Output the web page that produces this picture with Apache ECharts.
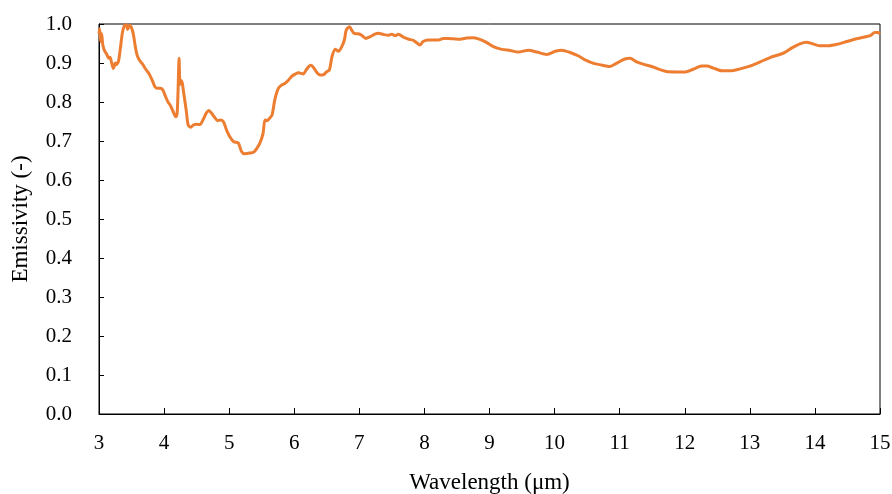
<!DOCTYPE html>
<html>
<head>
<meta charset="utf-8">
<script src="https://cdn.jsdelivr.net/npm/echarts@6/dist/echarts.min.js"></script>
<style>
  html, body { margin: 0; padding: 0; background: #fff; }
  #chart { width: 892px; height: 494px; }
</style>
</head>
<body>
<div id="chart"></div>
<script>
// Spectral emissivity of the sample, 3–15 µm
const wavelength = [
  3.00, 3.01, 3.025, 3.04, 3.06, 3.09, 3.12, 3.15, 3.17, 3.195,
  3.22, 3.235, 3.25, 3.27, 3.30, 3.33, 3.36, 3.39, 3.42, 3.44,
  3.47, 3.50, 3.53, 3.56, 3.59, 3.63, 3.67, 3.71, 3.75, 3.78,
  3.82, 3.86, 3.90, 3.94, 3.98, 4.02, 4.06, 4.10, 4.14, 4.18,
  4.20, 4.215, 4.23, 4.245, 4.26, 4.28, 4.30, 4.34, 4.37, 4.41,
  4.45, 4.50, 4.55, 4.60, 4.65, 4.69, 4.73, 4.78, 4.82, 4.86,
  4.91, 4.96, 5.01, 5.07, 5.14, 5.19, 5.24, 5.32, 5.38, 5.42,
  5.47, 5.52, 5.55, 5.58, 5.62, 5.66, 5.70, 5.755, 5.81, 5.86,
  5.91, 5.96, 6.02, 6.06, 6.09, 6.14, 6.19, 6.25, 6.29, 6.35,
  6.40, 6.45, 6.50, 6.54, 6.58, 6.63, 6.68, 6.73, 6.77, 6.80,
  6.85, 6.88, 6.92, 6.98, 7.03, 7.10, 7.16, 7.24, 7.29, 7.37,
  7.45, 7.50, 7.55, 7.60, 7.68, 7.76, 7.83, 7.88, 7.93, 7.98,
  8.06, 8.14, 8.22, 8.29, 8.37, 8.45, 8.55, 8.65, 8.75, 8.83,
  8.93, 9.06, 9.19, 9.32, 9.44, 9.60, 9.73, 9.88, 10.01, 10.11,
  10.24, 10.37, 10.47, 10.60, 10.72, 10.85, 10.95, 11.06, 11.16, 11.26,
  11.36, 11.49, 11.62, 11.72, 11.88, 12.00, 12.13, 12.26, 12.34, 12.44,
  12.57, 12.70, 12.85, 13.00, 13.16, 13.31, 13.51, 13.64, 13.77, 13.87,
  13.97, 14.08, 14.20, 14.34, 14.49, 14.64, 14.80, 14.85, 14.92, 14.97,
  15.00
];

const emissivity = [
  0.975, 0.988, 0.955, 0.975, 0.945, 0.930, 0.922, 0.912, 0.915, 0.900,
  0.886, 0.892, 0.900, 0.896, 0.905, 0.940, 0.978, 0.996, 0.998, 0.986,
  0.997, 0.990, 0.972, 0.940, 0.918, 0.905, 0.897, 0.886, 0.877, 0.869,
  0.855, 0.839, 0.835, 0.835, 0.831, 0.815, 0.800, 0.790, 0.775, 0.762,
  0.770, 0.830, 0.912, 0.845, 0.855, 0.848, 0.825, 0.779, 0.741, 0.735,
  0.741, 0.743, 0.742, 0.755, 0.772, 0.778, 0.771, 0.760, 0.752, 0.754,
  0.750, 0.728, 0.711, 0.698, 0.695, 0.673, 0.667, 0.669, 0.672, 0.680,
  0.694, 0.719, 0.754, 0.752, 0.758, 0.767, 0.805, 0.835, 0.844, 0.848,
  0.856, 0.866, 0.872, 0.875, 0.874, 0.872, 0.884, 0.894, 0.890, 0.875,
  0.869, 0.870, 0.878, 0.882, 0.916, 0.935, 0.930, 0.942, 0.959, 0.985,
  0.993, 0.985, 0.976, 0.975, 0.972, 0.963, 0.967, 0.974, 0.976, 0.973,
  0.971, 0.974, 0.970, 0.974, 0.966, 0.961, 0.958, 0.952, 0.946, 0.955,
  0.959, 0.959, 0.959, 0.963, 0.963, 0.962, 0.961, 0.964, 0.965, 0.962,
  0.955, 0.942, 0.935, 0.932, 0.928, 0.933, 0.928, 0.922, 0.930, 0.933,
  0.927, 0.918, 0.908, 0.899, 0.895, 0.891, 0.899, 0.909, 0.912, 0.903,
  0.897, 0.891, 0.883, 0.878, 0.877, 0.877, 0.884, 0.892, 0.892, 0.887,
  0.880, 0.880, 0.885, 0.892, 0.903, 0.914, 0.925, 0.938, 0.949, 0.953,
  0.949, 0.944, 0.944, 0.948, 0.955, 0.962, 0.968, 0.970, 0.978, 0.978,
  0.975
];

const xTitle = 'Wavelength (\u03bcm)';
const yTitle = 'Emissivity (-)';

const points = wavelength.map((w, i) => [w, emissivity[i]]);

const serif = '"Liberation Serif", "Times New Roman", serif';

const chart = echarts.init(document.getElementById('chart'), null, { renderer: 'canvas' });
chart.setOption({
  animation: false,
  backgroundColor: '#ffffff',
  grid: {
    left: 99, right: 12, top: 24, bottom: 80,
    containLabel: false,
    outerBoundsMode: 'none',
    show: true, borderColor: '#000', borderWidth: 1, backgroundColor: 'transparent'
  },
  xAxis: {
    type: 'value',
    min: 3, max: 15, interval: 1,
    name: xTitle,
    nameLocation: 'middle',
    nameGap: 57,
    nameTextStyle: { fontFamily: serif, fontSize: 23, color: '#000' },
    axisLine: { show: true, lineStyle: { color: '#000', width: 1 } },
    axisTick: { show: true, inside: true, length: 6, lineStyle: { color: '#000' } },
    axisLabel: { fontFamily: serif, fontSize: 21, color: '#000', margin: 19 },
    splitLine: { show: false }
  },
  yAxis: {
    type: 'value',
    min: 0, max: 1, interval: 0.1,
    name: yTitle,
    nameLocation: 'middle',
    nameGap: 67,
    nameTextStyle: { fontFamily: serif, fontSize: 23, color: '#000' },
    axisLine: { show: true, lineStyle: { color: '#000', width: 1 } },
    axisTick: { show: true, inside: true, length: 5, lineStyle: { color: '#000' } },
    axisLabel: {
      fontFamily: serif, fontSize: 21, color: '#000', margin: 27,
      formatter: v => v.toFixed(1)
    },
    splitLine: { show: false }
  },
  series: [{
    type: 'line',
    data: points,
    showSymbol: false,
    smooth: 0.25,
    clip: true,
    lineStyle: { color: '#ED7D31', width: 3 }
  }]
});
</script>
</body>
</html>
